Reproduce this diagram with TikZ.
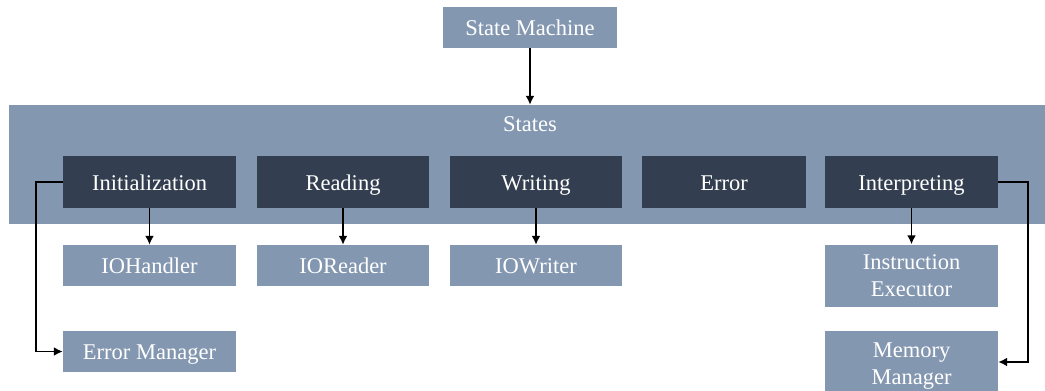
\documentclass[tikz,border=0pt]{standalone}
\usepackage{fontspec}
\setmainfont{Liberation Serif}
\usetikzlibrary{arrows.meta}
\definecolor{lightbox}{HTML}{8497B0}
\definecolor{darkbox}{HTML}{333F50}
\begin{document}
\begin{tikzpicture}[x=1pt,y=-1pt,
  lbox/.style={fill=lightbox, text=white, inner sep=0pt, minimum width=173pt, minimum height=41pt,
               font=\fontsize{22.5}{27}\selectfont, align=center, text height=18pt, text depth=2pt},
  dbox/.style={lbox, fill=darkbox, minimum height=52pt},
  conn/.style={line width=1.8pt, -{Latex[length=9pt,width=9pt]}}]
\useasboundingbox (0,0) rectangle (1045,391);
\clip (0,0) rectangle (1045,391);
% band
\node[fill=lightbox, inner sep=0pt, minimum width=1036pt, minimum height=119pt] (band) at (527,164.5) {};
\node[text=white, font=\fontsize{22.5}{27}\selectfont, inner sep=0pt, text height=15pt, text depth=5pt] (states) at (530,126) {States};
% top
\node[lbox, minimum width=174pt] (sm) at (530,27.5) {State Machine};
% states
\node[dbox] (init) at (149.5,182) {Initialization};
\node[dbox, minimum width=172pt] (read) at (343,182) {Reading};
\node[dbox, minimum width=172pt] (write) at (536,182) {Writing};
\node[dbox, minimum width=164pt] (err) at (724,182) {Error};
\node[dbox] (interp) at (911.5,182) {Interpreting};
% components
\node[lbox] (ioh) at (149.5,265.5) {IOHandler};
\node[lbox, minimum width=172pt] (ior) at (343,265.5) {IOReader};
\node[lbox, minimum width=172pt] (iow) at (536,265.5) {IOWriter};
\node[lbox, minimum height=62pt, text height=, text depth=] (ie) at (911.5,275.5) {Instruction\\Executor};
\node[lbox, minimum height=70pt, text height=, text depth=] (mm) at (911.5,366) {Memory\\Manager};
\node[lbox] (em) at (149.5,351.5) {Error Manager};
% connectors
\draw[conn] (sm.south) -- (sm.south |- band.north);
\draw[conn] (init.south) -- (ioh.north);
\draw[conn] (read.south) -- (ior.north);
\draw[conn] (write.south) -- (iow.north);
\draw[conn] (interp.south) -- (ie.north);
\draw[conn] (init.west) -- ++(-27,0) |- (em.west);
\draw[conn] (interp.east) -- ++(30,0) |- ([yshift=4pt]mm.east);
\end{tikzpicture}
\end{document}
